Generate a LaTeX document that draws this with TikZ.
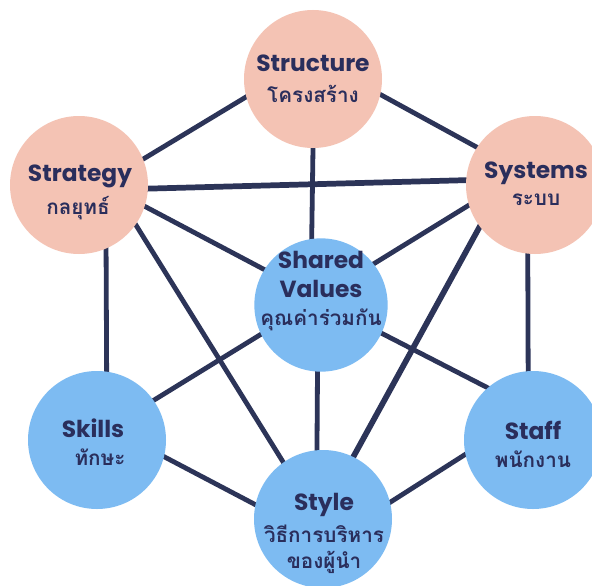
\documentclass[tikz,border=0pt]{standalone}
\usepackage{fontspec}
\setmainfont{Poppins}
\newfontfamily\thai[Script=Thai]{Loma}
\usetikzlibrary{backgrounds}
\definecolor{peach}{HTML}{F4C3B4}
\definecolor{sky}{HTML}{7DBBF2}
\definecolor{navy}{HTML}{2C3458}
\definecolor{ink}{HTML}{2A2E5C}
\tikzset{
  ball/.style={circle, minimum size=103.5pt, inner sep=0pt},
  pink/.style={ball, fill=peach},
  blue/.style={ball, fill=sky},
  link/.style={draw=navy, line width=3.6pt, shorten <=-6pt, shorten >=-6pt},
  thick link/.style={link, line width=4.3pt},
  en/.style={anchor=base, inner sep=0pt, text=ink, font=\fontsize{17.5}{20}\selectfont\bfseries},
  th/.style={anchor=base, inner sep=0pt, text=ink, font=\thai\fontsize{15.5}{17}\selectfont\bfseries},
}
\begin{document}
\begin{tikzpicture}[x=0.75pt,y=-0.75pt]
\useasboundingbox (0,0) rectangle (592,585);
% circles
\node[pink] (structure) at (313,79) {};
\node[pink] (strategy) at (79,185) {};
\node[pink] (systems) at (535,185) {};
\node[blue, minimum size=100pt] (shared) at (321,305) {};
\node[blue] (skills) at (97,440) {};
\node[blue] (staff) at (533,440) {};
\node[blue] (style) at (323,519) {};
% connectors
\begin{scope}[on background layer]
\fill[white] (0,0) rectangle (592,585);
\draw[link] (strategy.22) -- (structure.195);
\draw[link] (structure.347) -- (systems.147);
\draw[link] (structure.270) -- (shared.98);
\draw[thick link] (strategy.357) -- (systems.176);
\draw[link] (strategy.342) -- (shared.148);
\draw[link] (strategy.293) -- (skills.82);
\draw[link] (strategy.325) -- (style.125);
\draw[link] (systems.197) -- (shared.38);
\draw[thick link] (systems.217) -- (style.64);
\draw[link] (systems.264) -- (staff.94);
\draw[link] (skills.35) -- (shared.206);
\draw[link] (shared.335) -- (staff.131);
\draw[link] (shared.267) -- (style.95);
\draw[link] (skills.346) -- (style.168);
\draw[link] (style.14) -- (staff.192);
\end{scope}
% texts
\node[en] (t1) at (313,72) {Structure};
\node[th] (t1b) at (313,102) {โครงสร้าง};
\node[en] (t2) at (80,181) {Strategy};
\node[th] (t2b) at (78,214) {กลยุทธ์};
\node[en] (t3) at (536,178) {Systems};
\node[th] (t3b) at (536,205) {ระบบ};
\node[en] (t4) at (321,268) {Shared};
\node[en] (t4a) at (321,297) {Values};
\node[th] (t4b) at (321,325) {คุณค่าร่วมกัน};
\node[en] (t5) at (93,437) {Skills};
\node[th] (t5b) at (100,465) {ทักษะ};
\node[en] (t6) at (533,439) {Staff};
\node[th] (t6b) at (533,467) {พนักงาน};
\node[en] (t7) at (324,510) {Style};
\node[th] (t7b) at (324,542) {วิธีการบริหาร};
\node[th] (t7c) at (324,568) {ของผู้นำ};
\end{tikzpicture}
\end{document}
